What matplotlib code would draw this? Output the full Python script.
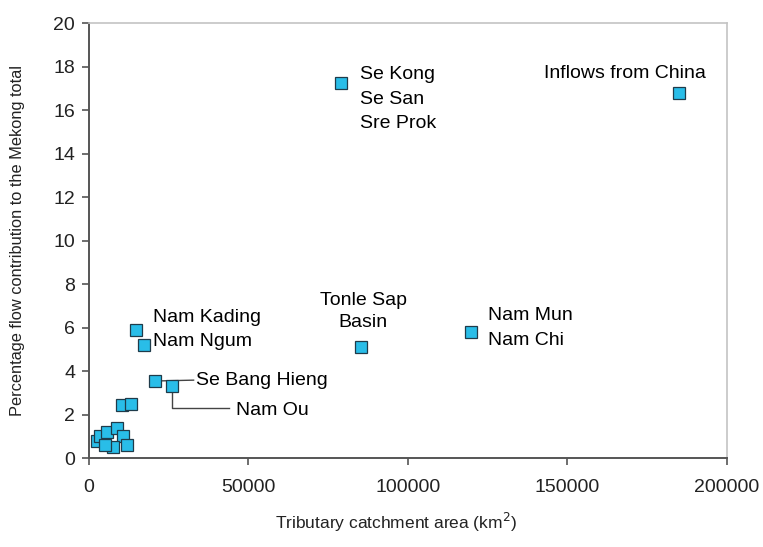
import matplotlib
matplotlib.use("Agg")
import matplotlib.pyplot as plt

plt.rcParams["font.family"] = ["Liberation Sans", "DejaVu Sans"]

# tributary catchment area (km2) and share of Mekong flow (%)
area = [185000, 79000, 85300, 119700, 14700, 17200, 20700, 26000,
        10300, 13300,
        2500, 3400, 5600, 8800, 10700, 11900, 7500, 5000]
flow = [16.78, 17.24, 5.1, 5.78, 5.9, 5.2, 3.54, 3.3,
        2.45, 2.5,
        0.8, 1.0, 1.2, 1.4, 1.0, 0.6, 0.5, 0.6]

fig = plt.figure(figsize=(7.63, 5.47), dpi=100)
ax = fig.add_axes([0.1166, 0.1627, 0.8362, 0.7952])

ax.plot(area, flow, "s", ms=8.5, mfc="#29bde8", mec="#1f3b4a", mew=0.9,
        ls="none", zorder=3)

ax.set_xlim(0, 200000)
ax.set_ylim(0, 20)
ax.set_xticks([0, 50000, 100000, 150000, 200000])
ax.set_yticks(range(0, 21, 2))
ax.tick_params(labelsize=14, direction="out", length=5, color="#555555",
               width=1.2, pad=5, labelcolor="#222222")
ax.tick_params(axis="x", pad=10)
for s in ("top", "right"):
    ax.spines[s].set_color("#c4c4c4")
    ax.spines[s].set_linewidth(1.2)
for s in ("left", "bottom"):
    ax.spines[s].set_color("#555555")
    ax.spines[s].set_linewidth(1.4)

ax.set_xlabel("Tributary catchment area (km$^2$)", fontsize=12.5,
              color="#222222")
ax.xaxis.set_label_coords(0.482, -0.122)
ax.set_ylabel("Percentage flow contribution to the Mekong total",
              fontsize=11.8, labelpad=20, color="#222222")

fs = 14
ax.text(142500, 17.7, "Inflows from China", fontsize=fs, va="center")
ax.text(85000, 16.5, "Se Kong\nSe San\nSre Prok", fontsize=fs, va="center",
        linespacing=1.55)
ax.text(86000, 6.75, "Tonle Sap\nBasin", fontsize=fs, ha="center",
        va="center", linespacing=1.4)
ax.text(125000, 5.98, "Nam Mun\nNam Chi", fontsize=fs, va="center",
        linespacing=1.55)
ax.text(20000, 5.92, "Nam Kading\nNam Ngum", fontsize=fs, va="center",
        linespacing=1.55)

# leader lines for the crowded labels
ax.plot([area[6], 32800], [flow[6], flow[6] + 0.04], color="#444444", lw=1,
        zorder=2)
ax.text(33700, flow[6] + 0.04, "Se Bang Hieng", fontsize=fs, va="center")
ax.plot([area[7], area[7], 43800], [flow[7], 2.3, 2.3], color="#444444",
        lw=1, zorder=2)
ax.text(46000, 2.2, "Nam Ou", fontsize=fs, va="center")

fig.savefig("out.png", dpi=100)
